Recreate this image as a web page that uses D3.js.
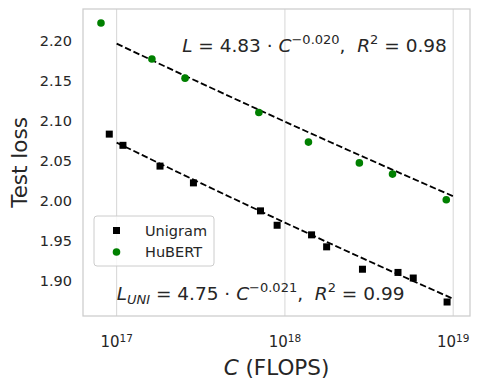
<!DOCTYPE html>
<html>
<head>
<meta charset="utf-8">
<script src="https://cdn.jsdelivr.net/npm/d3@7"></script>
<style>
  body { margin: 0; background: #fff; }
  text { font-family: "DejaVu Sans", sans-serif; fill: #262626; white-space: pre; }
</style>
</head>
<body>
<svg width="481" height="390"></svg>
<script>
// data
const hubertC = [8.07e16, 1.62e17, 2.55e17, 7.0e17, 1.38e18, 2.77e18, 4.36e18, 9.1e18];
const hubertLoss = [2.222, 2.177, 2.153, 2.110, 2.073, 2.047, 2.033, 2.001];
const unigramC = [9.04e16, 1.09e17, 1.81e17, 2.86e17, 7.16e17, 8.99e17, 1.44e18, 1.77e18, 2.89e18, 4.70e18, 5.79e18, 9.20e18];
const unigramLoss = [2.083, 2.069, 2.043, 2.022, 1.987, 1.969, 1.957, 1.942, 1.914, 1.910, 1.903, 1.873];
// power law fits L = a * C^-b
const hubertFit = [4.758, 0.01975];
const unigramFit = [4.808, 0.0215];
const fitRange = [1e17, 1e19];
const xTicks = [1e17, 1e18, 1e19];
const yTicks = [1.90, 1.95, 2.00, 2.05, 2.10, 2.15, 2.20];

const w = 481, h = 390;
const margin = { top: 9, right: 11, bottom: 74, left: 83 };
const svg = d3.select('svg');

const x = d3.scaleLog()
  .domain([Math.pow(10, 16.80), Math.pow(10, 19.10)])
  .range([margin.left, w - margin.right]);
const y = d3.scaleLinear()
  .domain([1.8555, 2.2395])
  .range([h - margin.bottom, margin.top]);

// vertical grid
svg.append('g')
  .selectAll('line')
  .data(xTicks)
  .enter()
  .append('line')
  .attr('x1', d => x(d)).attr('x2', d => x(d))
  .attr('y1', margin.top).attr('y2', h - margin.bottom)
  .attr('stroke', '#d6d6d6')
  .attr('stroke-width', 1);

// frame
svg.append('rect')
  .attr('x', margin.left).attr('y', margin.top)
  .attr('width', w - margin.left - margin.right)
  .attr('height', h - margin.top - margin.bottom)
  .attr('fill', 'none')
  .attr('stroke', '#cccccc')
  .attr('stroke-width', 1.25);

// x tick labels (10^n)
const xLab = svg.append('g')
  .selectAll('text')
  .data(xTicks)
  .enter()
  .append('text')
  .attr('x', d => x(d))
  .attr('y', h - margin.bottom + 31)
  .attr('text-anchor', 'middle')
  .style('font-size', '15px');
xLab.append('tspan').text('10');
xLab.append('tspan')
  .attr('dy', -5)
  .style('font-size', '10.5px')
  .text(d => Math.round(Math.log10(d)));

// y tick labels
svg.append('g')
  .selectAll('text')
  .data(yTicks)
  .enter()
  .append('text')
  .attr('x', margin.left - 11)
  .attr('y', d => y(d))
  .attr('dy', '0.36em')
  .attr('text-anchor', 'end')
  .style('font-size', '14.5px')
  .text(d => d.toFixed(2));

// axis labels
const xTitle = svg.append('text')
  .attr('x', (margin.left + w - margin.right) / 2)
  .attr('y', h - 15)
  .attr('text-anchor', 'middle')
  .style('font-size', '21.5px');
xTitle.append('tspan').style('font-style', 'italic').text('C');
xTitle.append('tspan').text(' (FLOPS)');

svg.append('text')
  .attr('transform', `translate(27, ${(margin.top + h - margin.bottom) / 2}) rotate(-90)`)
  .attr('text-anchor', 'middle')
  .style('font-size', '21.5px')
  .text('Test loss');

// fit lines
const fitLine = d3.line()
  .x(d => x(d[0]))
  .y(d => y(d[1]));
const fitPoints = p => d3.range(0, 41).map(i => {
  const c = Math.pow(10, Math.log10(fitRange[0]) + i / 40 * (Math.log10(fitRange[1]) - Math.log10(fitRange[0])));
  return [c, p[0] * Math.pow(c, -p[1])];
});
[hubertFit, unigramFit].forEach(p => {
  svg.append('path')
    .attr('d', fitLine(fitPoints(p)))
    .attr('fill', 'none')
    .attr('stroke', 'black')
    .attr('stroke-width', 1.8)
    .attr('stroke-dasharray', '6.5,2.8');
});

// markers
svg.append('g')
  .selectAll('rect')
  .data(unigramC)
  .enter()
  .append('rect')
  .attr('x', (d, i) => x(d) - 3.5)
  .attr('y', (d, i) => y(unigramLoss[i]) - 3.5)
  .attr('width', 7).attr('height', 7)
  .attr('fill', 'black');

svg.append('g')
  .selectAll('circle')
  .data(hubertC)
  .enter()
  .append('circle')
  .attr('cx', d => x(d))
  .attr('cy', (d, i) => y(hubertLoss[i]))
  .attr('r', 3.8)
  .attr('fill', 'green');

// annotations
function powerLabel(t, sub, coef, expo, r2) {
  t.append('tspan').style('font-style', 'italic').text('L');
  if (sub) t.append('tspan').attr('dy', 4).style('font-size', '13px').style('font-style', 'italic').text(sub);
  t.append('tspan').attr('dy', sub ? -4 : 0).text(` = ${coef} · `);
  t.append('tspan').style('font-style', 'italic').text('C');
  t.append('tspan').attr('dy', -8).style('font-size', '13px').text('−' + expo);
  t.append('tspan').attr('dy', 8).text(',  ');
  t.append('tspan').style('font-style', 'italic').text('R');
  t.append('tspan').attr('dy', -8).style('font-size', '13px').text('2');
  t.append('tspan').attr('dy', 8).text(' = ' + r2);
}
powerLabel(svg.append('text')
  .attr('x', x(2.45e17)).attr('y', y(2.186))
  .style('font-size', '18.5px'), null, '4.83', '0.020', '0.98');
powerLabel(svg.append('text')
  .attr('x', x(1e17)).attr('y', y(1.876))
  .style('font-size', '18.5px'), 'UNI', '4.75', '0.021', '0.99');

// legend
const lg = svg.append('g').attr('transform', 'translate(94, 216)');
lg.append('rect')
  .attr('width', 120).attr('height', 50)
  .attr('rx', 3)
  .attr('fill', 'white').attr('fill-opacity', 0.8)
  .attr('stroke', '#cccccc');
lg.append('rect').attr('x', 19).attr('y', 11).attr('width', 7).attr('height', 7).attr('fill', 'black');
lg.append('circle').attr('cx', 22.5).attr('cy', 36).attr('r', 3.8).attr('fill', 'green');
lg.append('text').attr('x', 51).attr('y', 14.5).attr('dy', '0.36em').style('font-size', '14.5px').text('Unigram');
lg.append('text').attr('x', 51).attr('y', 36).attr('dy', '0.36em').style('font-size', '14.5px').text('HuBERT');
</script>
</body>
</html>
